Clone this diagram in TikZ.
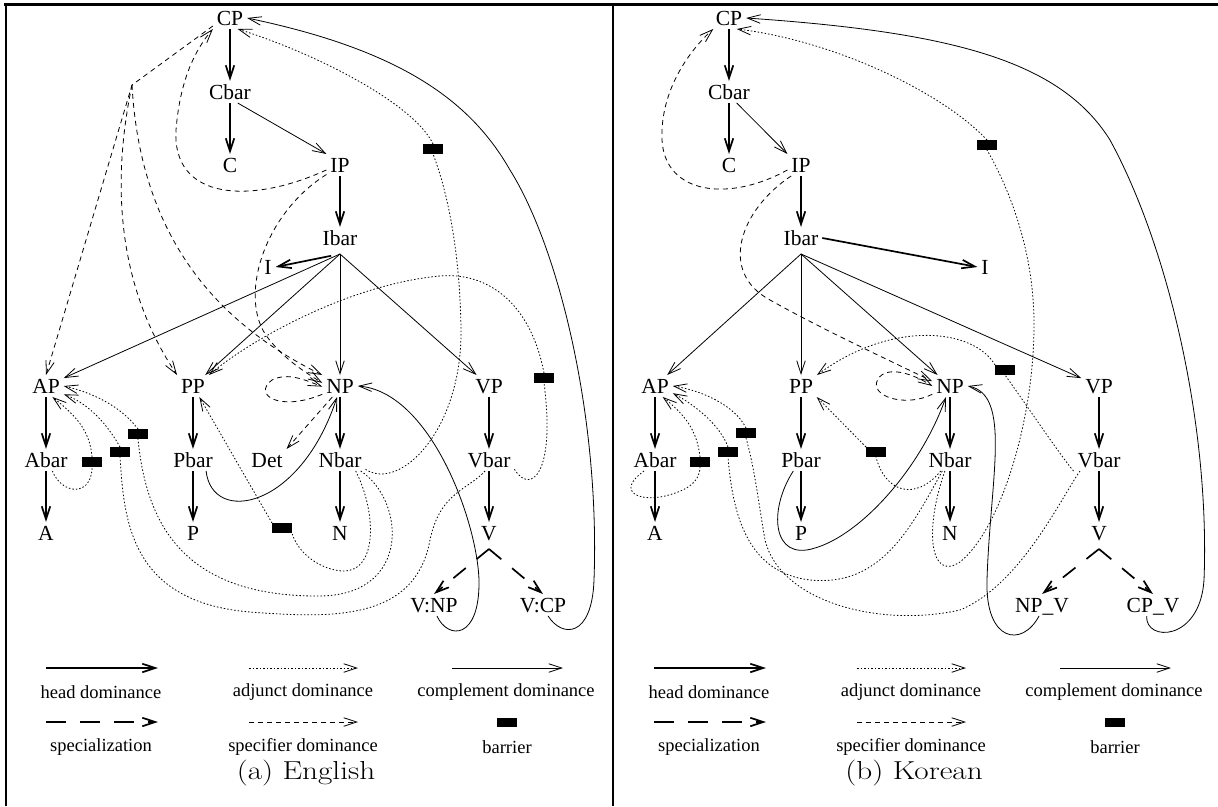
\documentclass[tikz,border=0pt]{standalone}
\usepackage{fontspec}
\usepackage{graphicx}
\newfontfamily\tms{Liberation Serif}
\usetikzlibrary{arrows.meta}
\tikzset{
  arrowtip/.style={-{Straight Barb[length=13pt,width=8.5pt]}},
  nd/.style={font=\tms\fontsize{21.5}{24}\selectfont, inner sep=2pt, outer sep=2pt, text height=14pt, text depth=0pt},
  headd/.style={arrowtip, line width=1.7pt},
  comp/.style={arrowtip, line width=0.8pt},
  adj/.style={arrowtip, line width=0.8pt, dash pattern=on 1.5pt off 2pt},
  adjl/.style={line width=0.8pt, dash pattern=on 1.5pt off 2pt},
  spec/.style={arrowtip, line width=0.8pt, dash pattern=on 5pt off 4pt},
  spcl/.style={arrowtip, line width=1.7pt, dash pattern=on 16pt off 14pt},
  barrier/.style={fill=black, minimum width=20pt, minimum height=10pt, inner sep=0pt, outer sep=0pt},
  lg/.style={font=\tms\fontsize{18.5}{22}\selectfont, inner sep=1pt},
  captext/.style={font=\fontsize{26}{30}\selectfont, inner sep=1pt},
  frameline/.style={line width=2.2pt},
}
\begin{document}
\begin{tikzpicture}[x=1pt,y=-1pt]
\useasboundingbox (0,0) rectangle (1218,806);
% frame
\coordinate (fTL) at (4,4.5); \coordinate (fTR) at (1218,4.5);
\coordinate (fBL) at (6,806); \coordinate (fLT) at (6,4.5);
\coordinate (fMT) at (613,4.5); \coordinate (fMB) at (613,806);
\draw[frameline] (fTL) -- (fTR);
\draw[frameline] (fLT) -- (fBL);
\draw[frameline] (fMT) -- (fMB);

%%%%%%%%%%%%%%%% Panel (a) %%%%%%%%%%%%%%%%
\node[nd] (CPa) at (230,18) {CP};
\node[nd] (Cbara) at (230,92) {Cbar};
\node[nd] (Ca) at (230,165) {C};
\node[nd] (IPa) at (340,165) {IP};
\node[nd] (Ibara) at (340,238) {Ibar};
\node[nd] (Ia) at (268,267) {I};
\node[nd] (APa) at (46,386) {AP};
\node[nd] (PPa) at (193,386) {PP};
\node[nd] (NPa) at (340,386) {NP};
\node[nd] (VPa) at (489,386) {VP};
\node[nd] (Abara) at (46,460) {Abar};
\node[nd] (Pbara) at (193,460) {Pbar};
\node[nd] (Deta) at (267,460) {Det};
\node[nd] (Nbara) at (340,460) {Nbar};
\node[nd] (Vbara) at (489,460) {Vbar};
\node[nd] (Aa) at (46,533) {A};
\node[nd] (Pa) at (193,533) {P};
\node[nd] (Na) at (340,533) {N};
\node[nd] (Va) at (489,533) {V};
\node[nd] (VNPa) at (434,605) {V:NP};
\node[nd] (VCPa) at (543,605) {V:CP};
\coordinate (fana) at (340,254);
\coordinate (spa) at (489,549);
\coordinate (jca) at (132,85);
\node[barrier] (b1a) at (433,149) {};
\node[barrier] (b2a) at (544,378) {};
\node[barrier] (b3a) at (138,434) {};
\node[barrier] (b4a) at (120,452) {};
\node[barrier] (b5a) at (92,462) {};
\node[barrier] (b6a) at (282,528) {};

% head dominance
\draw[headd] (CPa) -- (Cbara);
\draw[headd] (Cbara) -- (Ca);
\draw[headd] (IPa) -- (Ibara);
\draw[headd, shorten <=9pt] (fana) -- (Ia.east);
\draw[headd] (APa) -- (Abara);
\draw[headd] (Abara) -- (Aa);
\draw[headd] (PPa) -- (Pbara);
\draw[headd] (Pbara) -- (Pa);
\draw[headd] (NPa) -- (Nbara);
\draw[headd] (Nbara) -- (Na);
\draw[headd] (VPa) -- (Vbara);
\draw[headd] (Vbara) -- (Va);

% complement dominance
\draw[comp] (Cbara.-55) -- (IPa.north west);
\draw[comp] (fana) -- (APa);
\draw[comp] (fana) -- (PPa);
\draw[comp] (fana) -- (NPa);
\draw[comp] (fana) -- (VPa);
\draw[comp] (Pbara.-40) .. controls (212,525) and (300,510) .. (NPa.255);
\draw[comp] (VNPa.-75) .. controls (448,640) and (480,640) .. (479,580)
   .. controls (477,520) and (430,392) .. (NPa.east);
\draw[comp] (VCPa.-65) .. controls (562,638) and (592,638) .. (594,580)
   .. controls (600,420) and (560,250) .. (510,170)
   .. controls (470,100) and (400,50) .. (CPa.east);

% adjunct dominance
\draw[adjl] (Nbara.-20) .. controls (400,492) and (462,430) .. (461,330)
   .. controls (460,250) and (447,190) .. (b1a.south);
\draw[adj] (b1a.north) .. controls (415,105) and (320,55) .. (CPa.-55);
\draw[adjl] (Vbara.-20) .. controls (530,495) and (556,475) .. (b2a.south);
\draw[adj] (b2a.north) .. controls (530,300) and (485,272) .. (440,276)
   .. controls (350,284) and (250,340) .. (PPa.north east);
\draw[adjl] (Nbara.-35) .. controls (378,515) and (378,580) .. (335,570)
   .. controls (312,565) and (296,548) .. (b6a.south east);
\draw[adj] (b6a.north west) -- (PPa.-60);
\draw[adjl] (Abara.-60) .. controls (62,495) and (92,497) .. (b5a.south);
\draw[adj] (b5a.north) .. controls (90,430) and (75,415) .. (APa.-60);
\draw[adjl] (Nbara.-28) .. controls (405,500) and (412,595) .. (320,596)
   .. controls (180,597) and (146,520) .. (b3a.south);
\draw[adj] (b3a.north) .. controls (120,405) and (90,392) .. (APa.east);
\draw[adjl] (Vbara.-110) .. controls (468,490) and (440,492) .. (430,540)
   .. controls (415,622) and (330,618) .. (250,612)
   .. controls (130,602) and (124,520) .. (b4a.south);
\draw[adj] (b4a.north) .. controls (105,420) and (85,402) .. (APa.-25);

% specifier dominance
\draw[spec] (CPa.205) -- (jca) -- (APa.north);
\draw[spec] (jca) .. controls (110,190) and (120,290) .. (PPa.north west);
\draw[spec] (jca) .. controls (140,230) and (210,320) .. (NPa.north west);
\draw[spec] (IPa.200) .. controls (250,205) and (172,200) .. (176,130)
   .. controls (180,80) and (195,50) .. (CPa.south west);
\draw[spec] (IPa.215) .. controls (262,215) and (238,300) .. (268,338)
   .. controls (282,356) and (298,368) .. (NPa.170);
\draw[spec] (NPa.205) .. controls (280,412) and (252,395) .. (272,380)
   .. controls (288,372) and (305,380) .. (NPa.182);
\draw[spec] (NPa.235) -- (Deta.north east);

% specialization
\draw[spcl] (spa) -- (VNPa.north);
\draw[spcl] (spa) -- (VCPa.north);

% legend (a)
\coordinate (la1s) at (46,668); \coordinate (la1e) at (158,668);
\coordinate (la2s) at (249,668); \coordinate (la2e) at (358,668);
\coordinate (la3s) at (452,668); \coordinate (la3e) at (563,668);
\coordinate (la4s) at (46,722); \coordinate (la4e) at (158,722);
\coordinate (la5s) at (249,722); \coordinate (la5e) at (358,722);
\draw[headd] (la1s) -- (la1e);
\draw[adj] (la2s) -- (la2e);
\draw[comp] (la3s) -- (la3e);
\draw[spcl, dash pattern=on 20pt off 14pt] (la4s) -- (la4e);
\draw[spec] (la5s) -- (la5e);
\node[barrier, minimum width=20pt, minimum height=9pt] (lba) at (507,722) {};
\node[lg] (ta1) at (101,692) {head dominance};
\node[lg] (ta2) at (303,692) {adjunct dominance};
\node[lg] (ta3) at (506,692) {complement dominance};
\node[lg] (ta4) at (101,747) {specialization};
\node[lg] (ta5) at (303,747) {specifier dominance};
\node[lg] (ta6) at (507,747) {barrier};
\node[captext] (capa) at (306,773) {\scalebox{1.2}[1]{(a) English}};

%%%%%%%%%%%%%%%% Panel (b) %%%%%%%%%%%%%%%%
\node[nd] (CPb) at (729,18) {CP};
\node[nd] (Cbarb) at (729,92) {Cbar};
\node[nd] (Cb) at (729,165) {C};
\node[nd] (IPb) at (801,165) {IP};
\node[nd] (Ibarb) at (801,238) {Ibar};
\node[nd] (Ib) at (985,267) {I};
\node[nd] (APb) at (655,386) {AP};
\node[nd] (PPb) at (801,386) {PP};
\node[nd] (NPb) at (950,386) {NP};
\node[nd] (VPb) at (1099,386) {VP};
\node[nd] (Abarb) at (655,460) {Abar};
\node[nd] (Pbarb) at (801,460) {Pbar};
\node[nd] (Nbarb) at (950,460) {Nbar};
\node[nd] (Vbarb) at (1099,460) {Vbar};
\node[nd] (Ab) at (655,533) {A};
\node[nd] (Pb) at (801,533) {P};
\node[nd] (Nb) at (950,533) {N};
\node[nd] (Vb) at (1099,533) {V};
\node[nd] (NPVb) at (1042,605) {NP\_V};
\node[nd] (CPVb) at (1153,605) {CP\_V};
\coordinate (fanb) at (801,254);
\coordinate (spb) at (1099,549);
\node[barrier] (b1b) at (987,145) {};
\node[barrier] (b2b) at (1005,370) {};
\node[barrier] (b3b) at (746,433) {};
\node[barrier] (b4b) at (728,452) {};
\node[barrier] (b5b) at (700,462) {};
\node[barrier] (b6b) at (876,452) {};

% head dominance
\draw[headd] (CPb) -- (Cbarb);
\draw[headd] (Cbarb) -- (Cb);
\draw[headd] (IPb) -- (Ibarb);
\draw[headd] (Ibarb.east) -- (Ib.west);
\draw[headd] (APb) -- (Abarb);
\draw[headd] (Abarb) -- (Ab);
\draw[headd] (PPb) -- (Pbarb);
\draw[headd] (Pbarb) -- (Pb);
\draw[headd] (NPb) -- (Nbarb);
\draw[headd] (Nbarb) -- (Nb);
\draw[headd] (VPb) -- (Vbarb);
\draw[headd] (Vbarb) -- (Vb);

% complement dominance
\draw[comp] (Cbarb.-55) -- (IPb.north west);
\draw[comp] (fanb) -- (APb);
\draw[comp] (fanb) -- (PPb);
\draw[comp] (fanb) -- (NPb);
\draw[comp] (fanb) -- (VPb);
\draw[comp] (Pbarb.-125) .. controls (768,510) and (772,562) .. (815,548)
   .. controls (860,535) and (920,470) .. (NPb.-110);
\draw[comp] (NPVb.-105) .. controls (1022,648) and (985,642) .. (987,580)
   .. controls (990,480) and (1012,395) .. (NPb.east);
\draw[comp] (CPVb.-120) .. controls (1145,642) and (1200,642) .. (1204,580)
   .. controls (1210,430) and (1170,250) .. (1110,140)
   .. controls (1060,60) and (950,32) .. (CPb.east);

% adjunct dominance
\draw[adjl] (Nbarb.-115) .. controls (924,530) and (930,582) .. (960,562)
   .. controls (1000,530) and (1035,420) .. (1034,320)
   .. controls (1033,250) and (1010,190) .. (b1b.south);
\draw[adj] (b1b.north) .. controls (940,90) and (830,40) .. (CPb.-55);
\draw[adjl] (Vbarb.south west) .. controls (1060,455) and (1030,410) .. (b2b.south);
\draw[adj] (b2b.north west) .. controls (975,330) and (895,318) .. (PPb.north east);
\draw[adjl] (Nbarb.-130) .. controls (915,502) and (885,492) .. (b6b.south);
\draw[adj] (b6b.north west) -- (PPb.-35);
\draw[adjl] (Abarb.-135) .. controls (615,492) and (640,502) .. (665,496)
   .. controls (690,490) and (700,480) .. (b5b.south);
\draw[adj] (b5b.north) .. controls (697,430) and (685,415) .. (APb.-55);
\draw[adjl] (Nbarb.-125) .. controls (910,530) and (880,587) .. (810,580)
   .. controls (750,573) and (733,520) .. (b4b.south);
\draw[adj] (b4b.north) .. controls (720,425) and (695,405) .. (APb.-22);
\draw[adjl] (Vbarb.-150) .. controls (1060,500) and (1020,585) .. (960,610)
   .. controls (880,628) and (780,602) .. (765,540)
   .. controls (758,500) and (755,470) .. (b3b.south);
\draw[adj] (b3b.north) .. controls (735,405) and (700,390) .. (APb.east);

% specifier dominance
\draw[spec] (IPb.200) .. controls (730,202) and (665,195) .. (662,140)
   .. controls (660,90) and (690,50) .. (CPb.215);
\draw[spec] (IPb.228) .. controls (740,210) and (718,272) .. (770,300)
   .. controls (820,328) and (880,356) .. (NPb.165);
\draw[spec] (NPb.205) .. controls (905,408) and (868,396) .. (878,379)
   .. controls (886,366) and (910,372) .. (NPb.180);

% specialization
\draw[spcl] (spb) -- (NPVb.north);
\draw[spcl] (spb) -- (CPVb.north);

% legend (b)
\coordinate (lb1s) at (654,668); \coordinate (lb1e) at (766,668);
\coordinate (lb2s) at (857,668); \coordinate (lb2e) at (966,668);
\coordinate (lb3s) at (1060,668); \coordinate (lb3e) at (1171,668);
\coordinate (lb4s) at (654,722); \coordinate (lb4e) at (766,722);
\coordinate (lb5s) at (857,722); \coordinate (lb5e) at (966,722);
\draw[headd] (lb1s) -- (lb1e);
\draw[adj] (lb2s) -- (lb2e);
\draw[comp] (lb3s) -- (lb3e);
\draw[spcl, dash pattern=on 20pt off 14pt] (lb4s) -- (lb4e);
\draw[spec] (lb5s) -- (lb5e);
\node[barrier, minimum width=20pt, minimum height=9pt] (lbb) at (1115,722) {};
\node[lg] (tb1) at (709,692) {head dominance};
\node[lg] (tb2) at (911,692) {adjunct dominance};
\node[lg] (tb3) at (1114,692) {complement dominance};
\node[lg] (tb4) at (709,747) {specialization};
\node[lg] (tb5) at (911,747) {specifier dominance};
\node[lg] (tb6) at (1115,747) {barrier};
\node[captext] (capb) at (914,773) {\scalebox{1.2}[1]{(b) Korean}};
\end{tikzpicture}
\end{document}
